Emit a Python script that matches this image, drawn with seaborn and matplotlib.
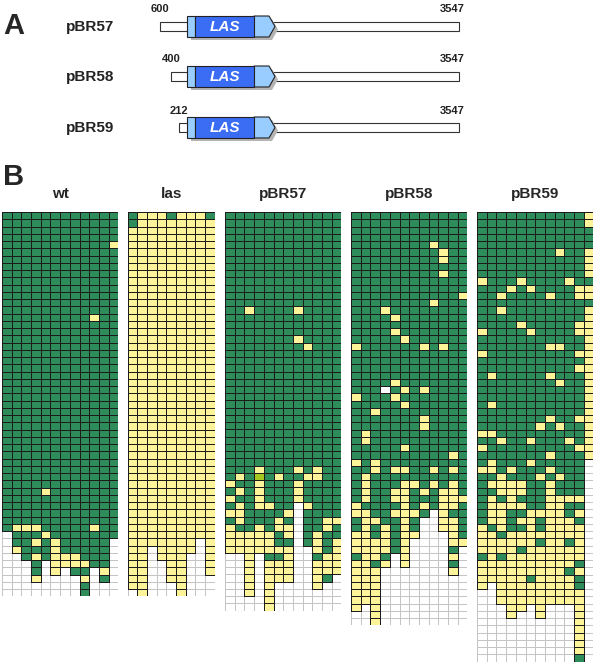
import numpy as np
import pandas as pd
import matplotlib
matplotlib.use("Agg")
import matplotlib.pyplot as plt
import seaborn as sns
from matplotlib.colors import ListedColormap, to_rgba
from matplotlib.patches import Rectangle, Polygon

sns.set_theme(style="white")
plt.rcParams["font.family"] = ["Liberation Sans", "DejaVu Sans"]

# ---------------- data ----------------
constructs = ["pBR57", "pBR58", "pBR59"]
construct_start = ["600", "400", "212"]
construct_end = ["3547", "3547", "3547"]
gene_label = "LAS"
panel_names = ["wt", "las", "pBR57", "pBR58", "pBR59"]

# G = green, Y = yellow, L = lime, W = white (outlined), . = empty
wt_rows = [
    "GGGGGGGGGGGG", "GGGGGGGGGGGG", "GGGGGGGGGGGG", "GGGGGGGGGGGG",
    "GGGGGGGGGGGY", "GGGGGGGGGGGG", "GGGGGGGGGGGG", "GGGGGGGGGGGG",
    "GGGGGGGGGGGG", "GGGGGGGGGGGG", "GGGGGGGGGGGG", "GGGGGGGGGGGG",
    "GGGGGGGGGGGG", "GGGGGGGGGGGG", "GGGGGGGGGYGG", "GGGGGGGGGGGG",
    "GGGGGGGGGGGG", "GGGGGGGGGGGG", "GGGGGGGGGGGG", "GGGGGGGGGGGG",
    "GGGGGGGGGGGG", "GGGGGGGGGGGG", "GGGGGGGGGGGG", "GGGGGGGGGGGG",
    "GGGGGGGGGGGG", "GGGGGGGGGGGG", "GGGGGGGGGGGG", "GGGGGGGGGGGG",
    "GGGGGGGGGGGG", "GGGGGGGGGGGG", "GGGGGGGGGGGG", "GGGGGGGGGGGG",
    "GGGGGGGGGGGG", "GGGGGGGGGGGG", "GGGGGGGGGGGG", "GGGGGGGGGGGG",
    "GGGGGGGGGGGG", "GGGGGGGGGGGG", "GGGGYGGGGGGG", "GGGGGGGGGGGG",
    "GGGGGGGGGGGG", "GGGGGGGGGGGG", "GGGGGGGGGGGG", "GYYYGGGGGYGG",
    ".GGGYGGGGGGG", ".GGYGYGGGGG.", ".YGGGYGGGGG.", "..GYGYYYGGG.",
    "...G.YYYYGG.", "...G.Y.GG.Y.", "...Y....Y.G.", "........G...",
    "........G...",
]

las_rows = [
    "GYYYGYYYG", "GYYYYYYYY", "YYYYYYYYY", "YYYYYYYYY", "YYYYYYYYY",
    "YYYYYYYYY", "YYYYYYYYY", "YYYYYYYYY", "YYYYYYYYY", "YYYYYYYYY",
    "YYYYYYYYY", "YYYYYYYYY", "YYYYYYYYY", "YYYYYYYYY", "YYYYYYYYY",
    "YYYYYYYYY", "YYYYYYYYY", "YYYYYYYYY", "YYYYYYYYY", "YYYYYYYYY",
    "YYYYYYYYY", "YYYYYYYYY", "YYYYYYYYY", "YYYYYYYYY", "YYYYYYYYY",
    "YYYYYYYYY", "YYYYYYYYY", "YYYYYYYYY", "YYYYYYYYY", "YYYYYYYYY",
    "YYYYYYYYY", "YYYYYYYYY", "YYYYYYYYY", "YYYYYYYYY", "YYYYYYYYY",
    "YYYYYYYYY", "YYYYYYYYY", "YYYYYYYYY", "YYYYYYYYY", "YYYYYYYYY",
    "YYYYYYYYY", "YYYYYYYYY", "YYYYYYYYY", "YYYYYYYYY", "YYYYYYYYY",
    "YYYYYYY.Y", "YY.YYYY.Y", "YY.YYY..Y", "YY..YY..Y", "YY..YY..Y",
    "YY..YY...", "YY...Y...", ".Y...Y...",
]

pbr57_rows = [
    "GGGGGGGGGGGG", "GGGGGGGGGGGG", "GGGGGGGGGGGG", "GGGGGGGGGGGG",
    "GGGGGGGGGGGG", "GGGGGGGGGGGG", "GGGGGGGGGGGG", "GGGGGGGGGGGG",
    "GGGGGGGGGGGG", "GGGGGGGGGGGG", "GGGGGGGGGGGG", "GGGGGGGGGGGG",
    "GGGGGGGGGGGG", "GGYGGGGYGGGG", "GGGGGGGGGGGG", "GGGGGGGGGGGG",
    "GGGGGGGGGGGG", "GGGGGGGYGGGG", "GGGGGGGGYGGG", "GGGGGGGGGGGG",
    "GGGGGGGGGGGG", "GGGGGGGGGGGG", "GGGGGGGGGGGG", "GGGGGGGGGGGG",
    "GGGGGGGGGGGG", "GGGGGGGGGGGG", "GGGGGGGGGGGG", "GGGGGGGGGGGG",
    "GGGGGGGGGGGG", "GGGGGGGGGGGG", "GGGGGGGGGGGG", "GGGGGGGGGGGG",
    "GGGGGGGGGGGG", "GGGGGGGGGGGG", "GGGGGGGGGGGG", "GGGYGGGYGYGG",
    "GYGLGYGGYYGG", "YGGYGGGYGGGG", "GYGYGGGYGGGG", "YGGYGGGYGGGG",
    "GYGYYGG.YGGG", "YYGGGGY.GGGG", "GYGGGYG.GGYY", "YGGYGYY.GGYG",
    "YYYYYGY.GYGG", "YYYYYGG.GYGY", "YYYYYYY..YGY", "..Y.GGY..GYY",
    "..Y.YYY..YYY", "..Y.YYY..YYY", "..Y.YYY..YG.", "..Y.Y....Y..",
    "..Y.Y.......", "....Y.......", "....Y.......",
]

pbr58_rows = [
    "GGGGGGGGGGGG", "GGGGGGGGGGGG", "GGGGGGGGGGGG", "GGGGGGGGGGGG",
    "GGGGGGGGYGGG", "GGGGGGGGGYGG", "GGGGGGGGGYGG", "GGGGGGGGGGGG",
    "GGGGGGGGGYGG", "GGGGGGGGGGGG", "GGGGGGGGGGGG", "GGGGGGGGGGGY",
    "GGGGGGGGYGGG", "GGGYGGGGGGGG", "GGGGYGGGGGGG", "GGGGGGGGGGGG",
    "GGGGYGGGGGGG", "GGGGGYGGGGGG", "YGGGGGGYGYGG", "GGGGGGGGGGGG",
    "GGGGGGGGGGGG", "GGGGGGGGGGGG", "GGGGGGGGGGGG", "GGGGYGGGGGGG",
    "GGGWGYGYGGGG", "YGGGYGGGGGGG", "GGGGGYGGGGGG", "GGYGGGGGGGGG",
    "GGGGGGGYGGGG", "GGGGGGGYGGGG", "GYGGGGGGGGGG", "GYGGGGGGGGGG",
    "GGGGGYGGGGGG", "GGGGGGGGGGYG", "YGYGGGGGGGGG", "GGYGYYGGYGYG",
    "GYGGGGGGGGGG", "GYGGGYYGYGYG", "GYGGYYGYGYYG", "GYGGYYGGGYYY",
    "YGGGGYGYGYYG", "YYGGYYYG.YGG", "GYYGGYG..YYG", "GYGYGYG..YYG",
    "YYGYGYY...YG", "YYYYGY....YY", "YYYYGY....G.", "GYYG.Y....Y.",
    "YYGY.Y....G.", "YYY.......Y.", "YYY.........", "YYY.........",
    "YYY.........", "YYY.........", "Y.Y.........", "..Y.........",
    "..Y.........",
]

pbr59_rows = [
    "GGGGGGGGGGGY", "GGGGGGGGGGGY", "GGGGGGGGGGGG", "GGGGGGGGGGGG",
    "GGGGGGGGGGGG", "GGGGGGGGYGGY", "GGGGGGGGGGGY", "GGGGGGGGGGGY",
    "GGGGGGGGGGGY", "YGGGYGGGGYGG", "GGGYGYGGGGYY", "GGYGGGGYGGYY",
    "GGGGGGGGGGGG", "GGYGGGGGGGGY", "GGGGGGGGGGGY", "GGGGYGGGGGYY",
    "YGGGGYGGGGYY", "GGGGGGGGGGGY", "GGGGGGGYYGGY", "YGGGGGGGGGYY",
    "GGGGGGGGGGGY", "GGGGGGGGGGYY", "GYGGGGGYGGGY", "GGGGGGGGYGGY",
    "GGGGGGGGGGGY", "GGGGGGGGGGGY", "GYGGGGGGGGGY", "GGGGGGGGGGGY",
    "GGGGGGGYGGYY", "GGGGGGYGYGGY", "YYGGGGGGGGGY", "GGYGGYGGGYGY",
    "YGGGGGGGGGYY", "GGGGGGGYGGGY", "GYGGGYGGGGG.", "YYGYGGGYGGG.",
    "GGYGGGYGYGG.", "GYYYYGGYGGG.", "GGYYYGGYGGG.", "GYGYGGGYYYY.",
    "GYYYYGGYYGG.", "GYYGGYYYYGY.", "GYYGYYGYYYG.", "YGYGGYGYYYY.",
    "YYGYYYYYYYY.", "YYYYYYGYYGY.", "YYYYGYYYYYY.", "GYGYYYYYYYY.",
    "YYYYYYYYYYG.", "YYYYYYYYYGY.", "YYYYYGYYYYG.", "Y.YYYYYYYYG.",
    "..YYYYYYYYY.", "..YYYYYYYYY.", "...YY.Y...Y.", "...Y..Y...Y.",
    "..........Y.", "..........Y.", "..........Y.", "..........Y.",
    "..........Y.", "..........G.",
]

panel_rows = [wt_rows, las_rows, pbr57_rows, pbr58_rows, pbr59_rows]

# ---------------- layout / style ----------------
W, H = 600, 663
fig = plt.figure(figsize=(W / 100, H / 100), dpi=100)

GREEN = "#2e8b5a"
YELLOW = "#fdf49a"
LIME = "#a6c81e"
WHITE = "#ffffff"
code = {"G": 1, "Y": 2, "L": 3, "W": 4}
cell_cmap = ListedColormap([GREEN, YELLOW, LIME, WHITE])
DARK_EDGE = to_rgba("#1c1c1c")
LIGHT_EDGE = to_rgba("#c4c4c4")


def px_axes(x0, y0, w, h):
    return fig.add_axes([x0 / W, 1 - (y0 + h) / H, w / W, h / H])


cw, rh = 9.7, 7.25
top = 212
panel_x = [2, 127.5, 225, 351, 477]

for name, rows, x0 in zip(panel_names, panel_rows, panel_x):
    ncol = len(rows[0])
    nrow = len(rows)
    vals = np.array([[code.get(ch, 0) for ch in r] for r in rows], dtype=float)
    empty = vals == 0
    df = pd.DataFrame(vals)
    ax = px_axes(x0, top, ncol * cw, nrow * rh)
    # empty grid (light lines)
    sns.heatmap(np.zeros_like(vals), ax=ax, cmap=ListedColormap(["#ffffff"]),
                cbar=False, linewidths=0.6, linecolor="#c4c4c4",
                xticklabels=False, yticklabels=False)
    # filled cells (dark outlines only around filled cells)
    sns.heatmap(df, ax=ax, mask=empty, cmap=cell_cmap, vmin=0.5, vmax=4.5,
                cbar=False, linewidths=0.7, linecolor="#1c1c1c",
                xticklabels=False, yticklabels=False)
    mesh = ax.collections[-1]
    ec = np.array([(0, 0, 0, 0) if e else DARK_EDGE for e in empty.ravel()])
    mesh.set_edgecolor(ec)
    ax.set_xticks([])
    ax.set_yticks([])
    for s in ax.spines.values():
        s.set_visible(False)
    fig.text((x0 + ncol * cw / 2) / W, 1 - 194 / H, name, ha="center", va="center",
             fontsize=11, fontweight="bold")

# ---------------- panel A diagram ----------------
axA = fig.add_axes([0, 0, 1, 1], facecolor="none")
axA.set_xlim(0, W)
axA.set_ylim(H, 0)
axA.axis("off")

bar_start_px = [160, 171, 179]
row_y = [26.5, 76.5, 127.5]
bar_end_px = 459
LIGHT_BLUE = "#99ccff"
DARK_BLUE = "#3a6cf4"

for name, s_lab, e_lab, sx, yc in zip(constructs, construct_start, construct_end,
                                      bar_start_px, row_y):
    axA.add_patch(Rectangle((sx, yc - 4.5), bar_end_px - sx, 9, fc="white",
                            ec="#333333", lw=0.8, zorder=1))
    sh = 3
    axA.add_patch(Polygon([(188 + sh, yc - 10.5 + sh), (269 + sh, yc - 10.5 + sh),
                           (275 + sh, yc + sh), (269 + sh, yc + 10.5 + sh),
                           (188 + sh, yc + 10.5 + sh)], closed=True,
                          fc="#b4b4b4", ec="none", zorder=2))
    axA.add_patch(Rectangle((187, yc - 10.5), 8, 21, fc=LIGHT_BLUE, ec="#222222",
                            lw=0.8, zorder=3))
    axA.add_patch(Polygon([(254, yc - 10.5), (269, yc - 10.5), (275, yc),
                           (269, yc + 10.5), (254, yc + 10.5)], closed=True,
                          fc=LIGHT_BLUE, ec="#222222", lw=0.8, zorder=3))
    axA.add_patch(Rectangle((195, yc - 10.5), 59, 21, fc=DARK_BLUE, ec="#222222",
                            lw=0.8, zorder=4))
    axA.text(224.5, yc + 0.5, gene_label, ha="center", va="center", color="white",
             fontsize=11, fontweight="bold", style="italic", zorder=5)
    axA.text(sx, yc - 17, s_lab, ha="center", va="center", fontsize=8,
             fontweight="bold", color="#222222")
    axA.text(452, yc - 17, e_lab, ha="center", va="center", fontsize=8,
             fontweight="bold", color="#222222")
    axA.text(90, yc + 0.5, name, ha="center", va="center", fontsize=11,
             fontweight="bold", color="#222222")

axA.text(14, 26, "A", ha="center", va="center", fontsize=21, fontweight="bold")
axA.text(14, 177, "B", ha="center", va="center", fontsize=21, fontweight="bold")

fig.savefig("out.png", dpi=100)
